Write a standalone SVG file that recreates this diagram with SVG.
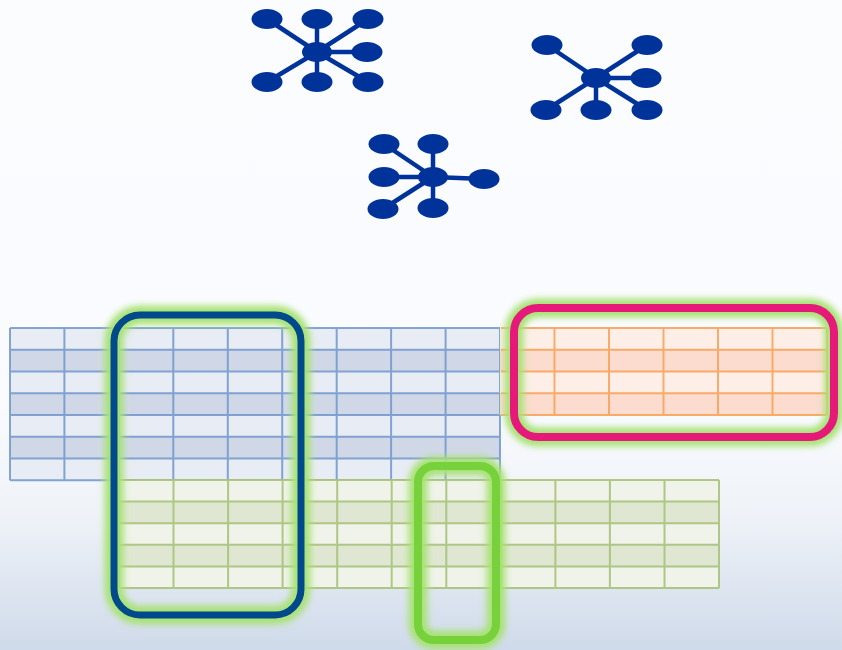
<svg xmlns="http://www.w3.org/2000/svg" width="842" height="650" viewBox="0 0 842 650">
<defs>
<linearGradient id="bg" x1="0" y1="0" x2="0" y2="1">
<stop offset="0" stop-color="#fbfcfe"/>
<stop offset="0.62" stop-color="#fafbfe"/>
<stop offset="0.8" stop-color="#eef2f8"/>
<stop offset="1" stop-color="#cfdaea"/>
</linearGradient>
<filter id="glow" x="-20%" y="-20%" width="140%" height="140%"><feGaussianBlur stdDeviation="3"/></filter>
</defs>
<style>
.hub{fill:#003399}
.spoke{stroke:#003399;stroke-width:4.5}
.bl{fill:#e8ecf4}.bd{fill:#d0d8e7}.bg{stroke:#7097cb;stroke-width:2;fill:none;opacity:.85}
.ol{fill:#fdeee8}.od{fill:#fbdcce}.og{stroke:#f7a35c;stroke-width:2;fill:none;opacity:.9}
.gl{fill:#eff3e9}.gd{fill:#dfe7d2}.gg{stroke:#a9c279;stroke-width:2;fill:none;opacity:.9}
.halo{fill:none;stroke:#a8e276;stroke-width:19;filter:url(#glow)}
</style>
<rect x="0" y="0" width="842" height="650" fill="url(#bg)"/>

<g id="network1">
<g class="spoke">
<line x1="317" y1="52" x2="267" y2="19"/><line x1="317" y1="52" x2="317" y2="19"/><line x1="317" y1="52" x2="368" y2="19"/>
<line x1="317" y1="52" x2="367" y2="52"/><line x1="317" y1="52" x2="267" y2="82"/><line x1="317" y1="52" x2="317" y2="82"/><line x1="317" y1="52" x2="368" y2="82"/>
</g>
<g class="hub">
<ellipse cx="317" cy="52" rx="15" ry="10"/>
<ellipse cx="267" cy="19" rx="15.5" ry="10"/><ellipse cx="317" cy="19" rx="15.5" ry="10"/><ellipse cx="368" cy="19" rx="15.5" ry="10"/>
<ellipse cx="367" cy="52" rx="15.5" ry="10"/>
<ellipse cx="267" cy="82" rx="15.5" ry="10"/><ellipse cx="317" cy="82" rx="15.5" ry="10"/><ellipse cx="368" cy="82" rx="15.5" ry="10"/>
</g>
</g>

<g id="network2">
<g class="spoke">
<line x1="596" y1="78" x2="547" y2="45"/><line x1="596" y1="78" x2="647" y2="45"/><line x1="596" y1="78" x2="646" y2="78"/>
<line x1="596" y1="78" x2="546" y2="110"/><line x1="596" y1="78" x2="596" y2="110"/><line x1="596" y1="78" x2="647" y2="110"/>
</g>
<g class="hub">
<ellipse cx="596" cy="78" rx="15" ry="10"/>
<ellipse cx="547" cy="45" rx="15.5" ry="10"/><ellipse cx="647" cy="45" rx="15.5" ry="10"/><ellipse cx="646" cy="78" rx="15.5" ry="10"/>
<ellipse cx="546" cy="110" rx="15.5" ry="10"/><ellipse cx="596" cy="110" rx="15.5" ry="10"/><ellipse cx="647" cy="110" rx="15.5" ry="10"/>
</g>
</g>

<g id="network3">
<g class="spoke">
<line x1="433" y1="177" x2="384" y2="144"/><line x1="433" y1="177" x2="433" y2="144"/><line x1="433" y1="177" x2="384" y2="177"/>
<line x1="433" y1="177" x2="484" y2="179"/><line x1="433" y1="177" x2="383" y2="209"/><line x1="433" y1="177" x2="433" y2="208"/>
</g>
<g class="hub">
<ellipse cx="433" cy="177" rx="15" ry="10"/>
<ellipse cx="384" cy="144" rx="15.5" ry="10"/><ellipse cx="433" cy="144" rx="15.5" ry="10"/><ellipse cx="384" cy="177" rx="15.5" ry="10"/>
<ellipse cx="484" cy="179" rx="15.5" ry="10"/><ellipse cx="383" cy="209" rx="15.5" ry="10"/><ellipse cx="433" cy="208" rx="15.5" ry="10"/>
</g>
</g>

<g id="table-blue">
<rect class="bl" x="10" y="328" width="490" height="21.75"/>
<rect class="bd" x="10" y="349.75" width="490" height="21.75"/>
<rect class="bl" x="10" y="371.5" width="490" height="21.75"/>
<rect class="bd" x="10" y="393.25" width="490" height="21.75"/>
<rect class="bl" x="10" y="415" width="490" height="21.75"/>
<rect class="bd" x="10" y="436.75" width="490" height="21.75"/>
<rect class="bl" x="10" y="458.5" width="490" height="21.75"/>
<path class="bg" d="M10 328H500M10 349.75H500M10 371.5H500M10 393.25H500M10 415H500M10 436.75H500M10 458.5H500M10 480.25H500M10 328V480.25M64.4 328V480.25M118.9 328V480.25M173.3 328V480.25M227.8 328V480.25M282.2 328V480.25M336.7 328V480.25M391.1 328V480.25M445.6 328V480.25M500 328V480.25"/>
</g>

<g id="table-orange">
<rect class="ol" x="500" y="328" width="327" height="21.75"/>
<rect class="od" x="500" y="349.75" width="327" height="21.75"/>
<rect class="ol" x="500" y="371.5" width="327" height="21.75"/>
<rect class="od" x="500" y="393.25" width="327" height="21.75"/>
<path class="og" d="M501 328H827M501 349.75H827M501 371.5H827M501 393.25H827M501 415H827M554.5 328V415M609 328V415M663.5 328V415M718 328V415M772.5 328V415M827 328V415"/>
</g>

<g id="table-green">
<rect class="gl" x="119" y="480" width="600" height="21.6"/>
<rect class="gd" x="119" y="501.6" width="600" height="21.6"/>
<rect class="gl" x="119" y="523.2" width="600" height="21.6"/>
<rect class="gd" x="119" y="544.8" width="600" height="21.6"/>
<rect class="gl" x="119" y="566.4" width="600" height="21.6"/>
<path class="gg" d="M119 480H719M119 501.6H719M119 523.2H719M119 544.8H719M119 566.4H719M119 588H719M119 480V588M173.5 480V588M228.1 480V588M282.6 480V588M337.2 480V588M391.7 480V588M446.3 480V588M500.8 480V588M555.4 480V588M609.9 480V588M664.5 480V588M719 480V588"/>
</g>

<g id="highlight-blue">
<rect class="halo" x="114" y="315" width="187" height="300" rx="26"/>
<rect x="114" y="315" width="187" height="300" rx="26" fill="none" stroke="#004a8c" stroke-width="7"/>
</g>

<g id="highlight-pink">
<rect class="halo" x="514" y="308" width="320" height="129" rx="24"/>
<rect x="514" y="308" width="320" height="129" rx="24" fill="none" stroke="#e6197a" stroke-width="8"/>
</g>

<g id="highlight-green">
<rect class="halo" x="418" y="466" width="78" height="174" rx="16"/>
<rect x="418" y="466" width="78" height="174" rx="16" fill="none" stroke="#77d13a" stroke-width="8"/>
</g>

<g id="connectors"/>
</svg>
